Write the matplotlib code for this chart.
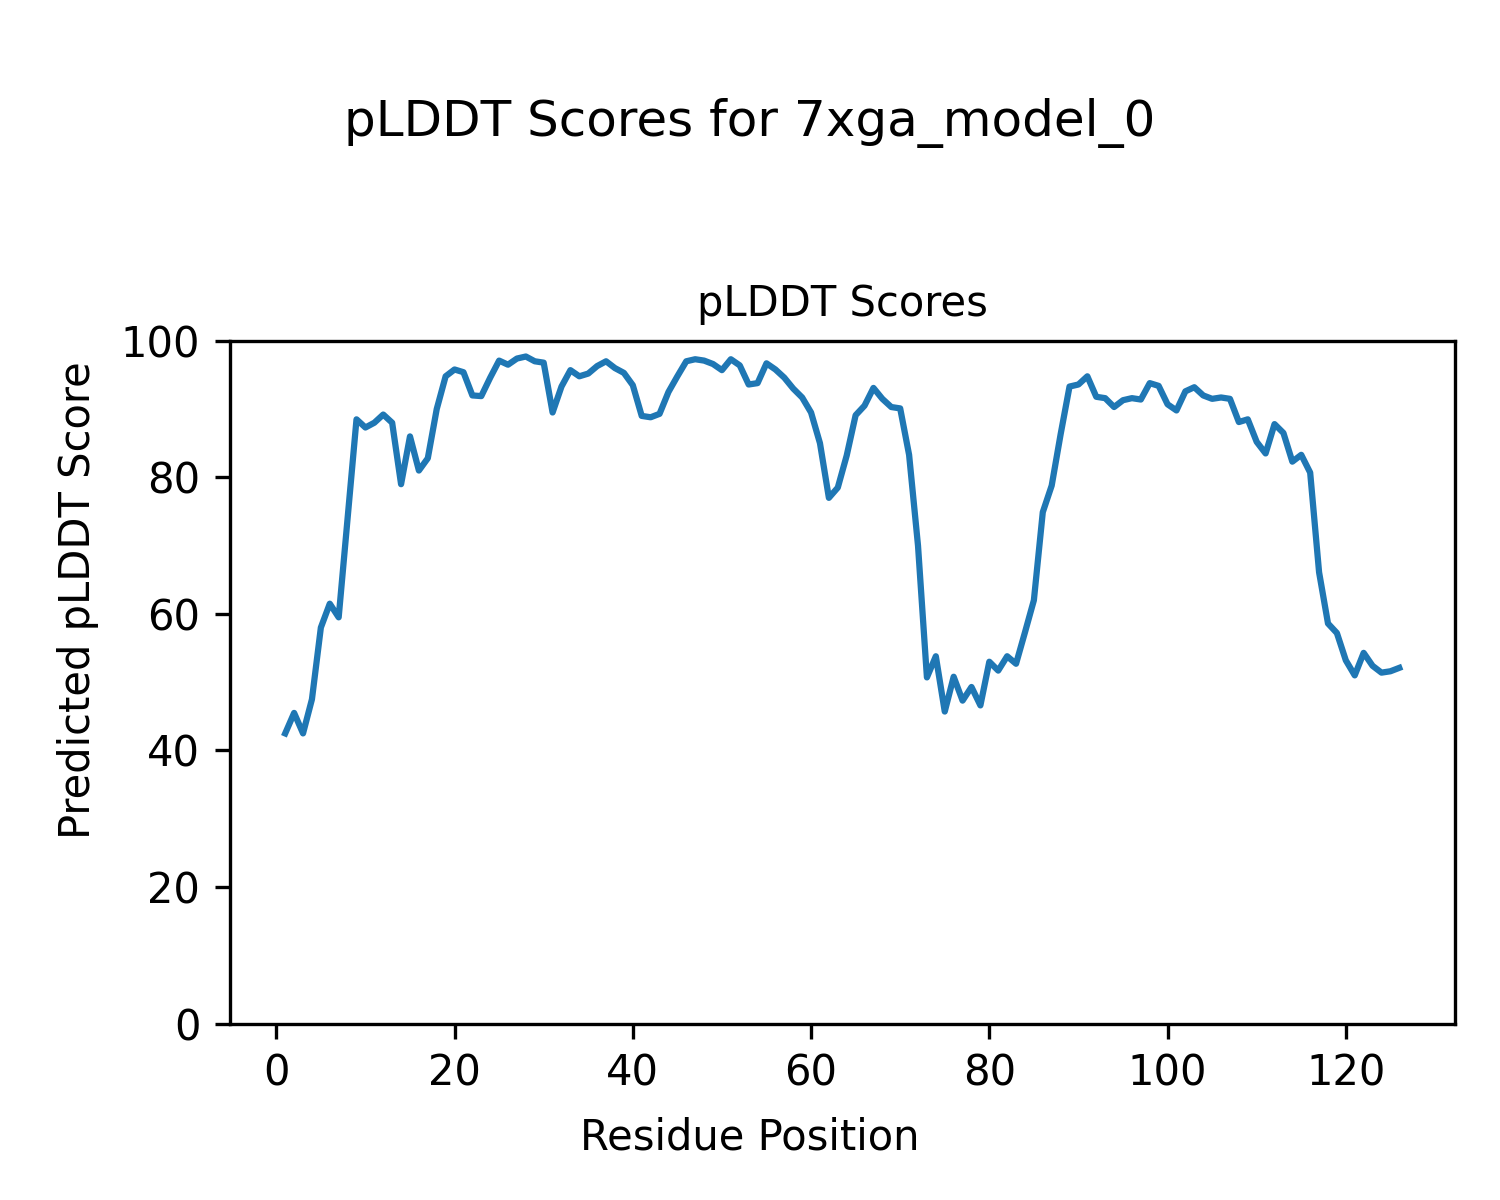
import matplotlib
matplotlib.use("Agg")
import matplotlib.pyplot as plt
import numpy as np

model_name = "7xga_model_0"

# pLDDT per residue
plddt = [
    42.5, 45.5, 42.5, 47.5, 58.0, 61.5, 59.5, 74.0, 88.5, 87.3,
    88.0, 89.2, 88.0, 79.0, 86.0, 81.0, 82.8, 90.0, 94.8, 95.8,
    95.4, 92.0, 91.9, 94.6, 97.1, 96.5, 97.4, 97.7, 97.0, 96.8,
    89.5, 93.3, 95.7, 94.8, 95.2, 96.3, 97.0, 96.0, 95.3, 93.5,
    89.0, 88.8, 89.3, 92.5, 94.8, 97.0, 97.3, 97.1, 96.6, 95.7,
    97.3, 96.4, 93.6, 93.8, 96.7, 95.8, 94.6, 93.0, 91.7, 89.5,
    85.0, 77.0, 78.5, 83.2, 89.1, 90.5, 93.1, 91.5, 90.3, 90.1,
    83.3, 70.0, 50.7, 53.8, 45.7, 50.8, 47.3, 49.3, 46.6, 53.0,
    51.7, 53.8, 52.7, 57.3, 62.0, 74.9, 78.8, 86.3, 93.3, 93.6,
    94.8, 91.8, 91.6, 90.3, 91.3, 91.6, 91.4, 93.8, 93.4, 90.7,
    89.8, 92.6, 93.2, 92.0, 91.5, 91.7, 91.5, 88.1, 88.5, 85.2,
    83.5, 87.8, 86.5, 82.3, 83.3, 80.7, 66.1, 58.6, 57.2, 53.2,
    51.0, 54.3, 52.4, 51.4, 51.6, 52.1,
]
residues = np.arange(1, len(plddt) + 1)

fig = plt.figure(figsize=(5, 4), dpi=300)
fig.suptitle(f"pLDDT Scores for {model_name}", y=0.918)
ax = fig.add_axes([0.153, 0.147, 0.817, 0.569])
ax.plot(residues, plddt)
ax.set_ylim(0, 100)
ax.set_title("pLDDT Scores", fontsize=10)

# shared figure-level axis labels
fig.supxlabel("Residue Position", fontsize=10, y=0.052, va="center")
fig.supylabel("Predicted pLDDT Score", fontsize=10, x=0.052, ha="center")

fig.savefig("out.png", dpi=300)
